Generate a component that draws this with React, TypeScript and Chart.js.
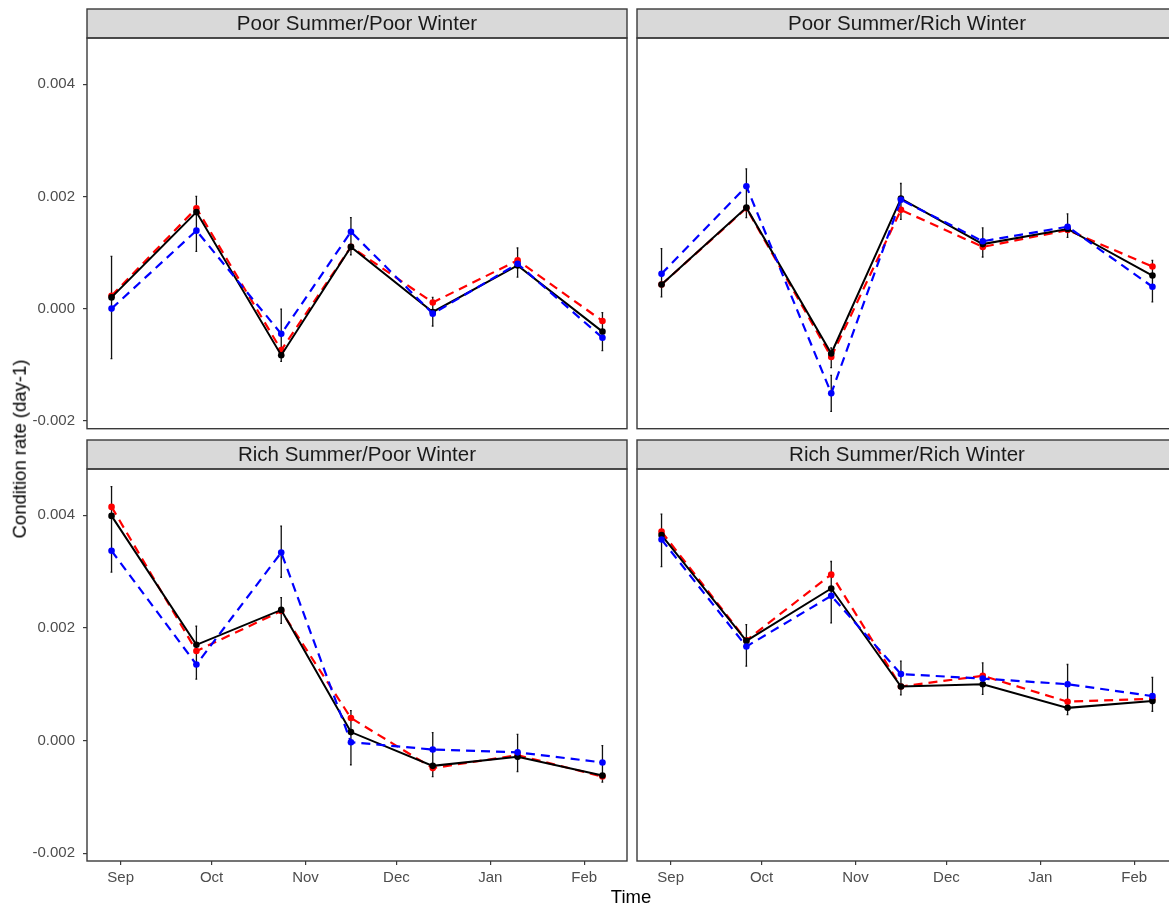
import React, { useEffect, useRef } from "react";
import { Chart, registerables } from "chart.js";

Chart.register(...registerables);

const FONT = '"Liberation Sans", Arial, Helvetica, sans-serif';

// ---------- data ----------
const panelTitles = [
  "Poor Summer/Poor Winter",
  "Poor Summer/Rich Winter",
  "Rich Summer/Poor Winter",
  "Rich Summer/Rich Winter",
];

// sampling dates, in days from 1 Sep
const sampleDays = [-3, 25, 53, 76, 103, 131, 159];
const monthTickDays = [0, 30, 61, 91, 122, 153];
const monthTickLabels = ["Sep", "Oct", "Nov", "Dec", "Jan", "Feb"];
const yTickValues = [-0.002, 0, 0.002, 0.004];
const yAxisTitle = "Condition rate (day-1)";
const xAxisTitle = "Time";

// Poor Summer / Poor Winter
const ppBlack = [0.0002, 0.00172, -0.00083, 0.0011, -0.00006, 0.00077, -0.00041];
const ppRed = [0.00023, 0.00179, -0.00074, 0.0011, 0.00011, 0.00086, -0.00022];
const ppBlue = [0.0, 0.00139, -0.00045, 0.00137, -0.00009, 0.0008, -0.00052];
const ppErrHi = [0.00093, 0.002, -0.00001, 0.00162, 0.0002, 0.00108, -0.00007];
const ppErrLo = [-0.00089, 0.00102, -0.00094, 0.00096, -0.00031, 0.00056, -0.00075];
const ppErr2Hi = [null, null, null, null, null, null, null];
const ppErr2Lo = [null, null, null, null, null, null, null];

// Poor Summer / Rich Winter
const prBlack = [0.00043, 0.0018, -0.0008, 0.00196, 0.00115, 0.00142, 0.00059];
const prRed = [0.00043, 0.00179, -0.00086, 0.00176, 0.0011, 0.0014, 0.00075];
const prBlue = [0.00062, 0.00218, -0.00151, 0.00194, 0.0012, 0.00146, 0.00039];
const prErrHi = [0.00107, 0.00249, -0.0007, 0.00223, 0.00144, 0.00169, 0.00086];
const prErrLo = [0.00021, 0.00162, -0.00105, 0.00159, 0.00092, 0.00127, 0.00012];
const prErr2Hi = [null, null, -0.00119, null, null, null, null];
const prErr2Lo = [null, null, -0.00183, null, null, null, null];

// Rich Summer / Poor Winter
const rpBlack = [0.00399, 0.0017, 0.00232, 0.00015, -0.00045, -0.00029, -0.00062];
const rpRed = [0.00415, 0.00159, 0.0023, 0.0004, -0.00049, -0.00026, -0.00064];
const rpBlue = [0.00337, 0.00135, 0.00334, -0.00003, -0.00016, -0.00021, -0.00039];
const rpErrHi = [0.00451, 0.00203, 0.00254, 0.00053, 0.00014, 0.00011, -0.00009];
const rpErrLo = [0.00299, 0.00109, 0.00208, -0.00043, -0.00064, -0.00055, -0.00074];
const rpErr2Hi = [null, null, 0.00381, null, null, null, null];
const rpErr2Lo = [null, null, 0.0029, null, null, null, null];

// Rich Summer / Rich Winter
const rrBlack = [0.00365, 0.00177, 0.0027, 0.00096, 0.001, 0.00058, 0.0007];
const rrRed = [0.00371, 0.00178, 0.00295, 0.00096, 0.00115, 0.00069, 0.00074];
const rrBlue = [0.00357, 0.00167, 0.00257, 0.00118, 0.0011, 0.001, 0.00079];
const rrErrHi = [0.00402, 0.00206, 0.00318, 0.00141, 0.00138, 0.00135, 0.00112];
const rrErrLo = [0.00309, 0.00132, 0.00209, 0.00081, 0.00082, 0.00046, 0.00052];
const rrErr2Hi = [null, null, null, null, null, null, null];
const rrErr2Lo = [null, null, null, null, null, null, null];

const panels = [
  { title: panelTitles[0], black: ppBlack, red: ppRed, blue: ppBlue, hi: ppErrHi, lo: ppErrLo, hi2: ppErr2Hi, lo2: ppErr2Lo, row: 0, col: 0 },
  { title: panelTitles[1], black: prBlack, red: prRed, blue: prBlue, hi: prErrHi, lo: prErrLo, hi2: prErr2Hi, lo2: prErr2Lo, row: 0, col: 1 },
  { title: panelTitles[2], black: rpBlack, red: rpRed, blue: rpBlue, hi: rpErrHi, lo: rpErrLo, hi2: rpErr2Hi, lo2: rpErr2Lo, row: 1, col: 0 },
  { title: panelTitles[3], black: rrBlack, red: rrRed, blue: rrBlue, hi: rrErrHi, lo: rrErrLo, hi2: rrErr2Hi, lo2: rrErr2Lo, row: 1, col: 1 },
];

// ---------- layout (positions only) ----------
const X_MIN = -11.1;
const X_MAX = 167.1;
const Y_MIN = -0.00214;
const Y_MAX = 0.004823;

const rowGeom = [
  { top: 0, height: 432, padTop: 9, padBottom: 2 },
  { top: 435, height: 455, padTop: 5, padBottom: 0 },
];
const colGeom = [
  { left: 0, width: 632, padLeft: 0, padRight: 5 },
  { left: 632, width: 550, padLeft: 5, padRight: 5 },
];

const frameColor = "#3a3a3a";

const panelPlugin = {
  id: "panelFrame",
  beforeDraw(chart: any) {
    const tb = chart.titleBlock;
    if (!tb) return;
    const ctx = chart.ctx;
    ctx.save();
    ctx.fillStyle = "#D9D9D9";
    ctx.fillRect(tb.left, tb.top, tb.width, tb.height);
    ctx.restore();
  },
  beforeDatasetsDraw(chart: any, _args: any, opts: any) {
    const p = opts.panel;
    if (!p) return;
    const ctx = chart.ctx;
    const xs = chart.scales.x;
    const ys = chart.scales.y;
    ctx.save();
    ctx.strokeStyle = "#111111";
    ctx.lineWidth = 1.3;
    const bar = (d: number, lo: number, hi: number) => {
      const x = xs.getPixelForValue(d);
      const y1 = ys.getPixelForValue(hi);
      const y2 = ys.getPixelForValue(lo);
      ctx.beginPath();
      ctx.moveTo(x, y1);
      ctx.lineTo(x, y2);
      ctx.moveTo(x - 1, y1);
      ctx.lineTo(x + 0.8, y1);
      ctx.moveTo(x - 1, y2);
      ctx.lineTo(x + 0.8, y2);
      ctx.stroke();
    };
    sampleDays.forEach((d, i) => {
      bar(d, p.lo[i], p.hi[i]);
      if (p.hi2[i] != null && p.lo2[i] != null) bar(d, p.lo2[i], p.hi2[i]);
    });
    ctx.restore();
  },
  afterDraw(chart: any) {
    const ctx = chart.ctx;
    const a = chart.chartArea;
    const tb = chart.titleBlock;
    ctx.save();
    ctx.strokeStyle = frameColor;
    ctx.lineWidth = 1.4;
    ctx.strokeRect(a.left, a.top, a.right - a.left, a.bottom - a.top);
    if (tb) ctx.strokeRect(tb.left, tb.top, tb.width, tb.height);
    ctx.restore();
  },
};

function makeSeries(values: number[]) {
  return sampleDays.map((d, i) => ({ x: d, y: values[i] }));
}

function Panel({ p }: { p: any }) {
  const ref = useRef<HTMLCanvasElement | null>(null);
  const rg = rowGeom[p.row];
  const cg = colGeom[p.col];
  const showX = p.row === 1;
  const showY = p.col === 0;

  useEffect(() => {
    if (!ref.current) return;
    const lineCommon = {
      pointRadius: 3.3,
      pointBorderWidth: 0,
      pointHoverRadius: 3.3,
      tension: 0,
      fill: false,
    };
    const chart = new Chart(ref.current, {
      type: "line",
      data: {
        datasets: [
          {
            label: "blue",
            data: makeSeries(p.blue),
            borderColor: "#0000FF",
            backgroundColor: "#0000FF",
            pointBackgroundColor: "#0000FF",
            borderWidth: 2.2,
            borderDash: [9, 6],
            order: 1,
            ...lineCommon,
          },
          {
            label: "black",
            data: makeSeries(p.black),
            borderColor: "#000000",
            backgroundColor: "#000000",
            pointBackgroundColor: "#000000",
            borderWidth: 2,
            order: 2,
            ...lineCommon,
          },
          {
            label: "red",
            data: makeSeries(p.red),
            borderColor: "#FF0000",
            backgroundColor: "#FF0000",
            pointBackgroundColor: "#FF0000",
            borderWidth: 2.2,
            borderDash: [9, 6],
            order: 3,
            ...lineCommon,
          },
        ],
      },
      options: {
        animation: false,
        responsive: false,
        maintainAspectRatio: false,
        events: [],
        layout: {
          padding: { left: cg.padLeft, right: cg.padRight, top: rg.padTop, bottom: rg.padBottom },
        },
        plugins: {
          legend: { display: false },
          tooltip: { enabled: false },
          title: {
            display: true,
            text: p.title,
            fullSize: false,
            color: "#1A1A1A",
            font: { family: FONT, size: 20.5, weight: "normal", lineHeight: 1 },
            padding: { top: 5.5, bottom: 3 },
          },
          panelFrame: { panel: p },
        } as any,
        scales: {
          x: {
            type: "linear",
            min: X_MIN,
            max: X_MAX,
            display: showX,
            afterBuildTicks: (s: any) => {
              s.ticks = monthTickDays.map((v) => ({ value: v }));
            },
            afterFit: (s: any) => {
              s.height = showX ? 29 : 0;
              s.paddingLeft = 0;
              s.paddingRight = 0;
            },
            ticks: {
              autoSkip: false,
              maxRotation: 0,
              padding: 4,
              color: "#4D4D4D",
              font: { family: FONT, size: 15 },
              callback: (v: any) => {
                const i = monthTickDays.indexOf(Number(v));
                return i >= 0 ? monthTickLabels[i] : "";
              },
            },
            grid: {
              display: true,
              drawOnChartArea: false,
              drawTicks: true,
              tickLength: 4,
              color: frameColor,
              lineWidth: 1.2,
            },
            border: { display: false },
          },
          y: {
            type: "linear",
            min: Y_MIN,
            max: Y_MAX,
            display: showY,
            afterBuildTicks: (s: any) => {
              s.ticks = yTickValues.map((v) => ({ value: v }));
            },
            afterFit: (s: any) => {
              s.width = showY ? 87 : 0;
              s.paddingTop = 0;
              s.paddingBottom = 0;
            },
            ticks: {
              padding: 8,
              color: "#4D4D4D",
              font: { family: FONT, size: 15 },
              callback: (v: any) => Number(v).toFixed(3),
            },
            grid: {
              display: true,
              drawOnChartArea: false,
              drawTicks: true,
              tickLength: 4,
              color: frameColor,
              lineWidth: 1.2,
            },
            border: { display: false },
          },
        },
      } as any,
      plugins: [panelPlugin as any],
    });
    return () => chart.destroy();
  }, []);

  return (
    <canvas
      ref={ref}
      width={cg.width}
      height={rg.height}
      style={{ position: "absolute", left: cg.left, top: rg.top, width: cg.width, height: rg.height }}
    />
  );
}

export default function App() {
  return (
    <div
      style={{
        position: "absolute",
        left: 0,
        top: 0,
        width: 1169,
        height: 909,
        overflow: "hidden",
        background: "#ffffff",
        fontFamily: FONT,
      }}
    >
      {panels.map((p, i) => (
        <Panel key={i} p={p} />
      ))}
      <div
        style={{
          position: "absolute",
          left: 20,
          top: 449,
          transform: "translate(-50%, -50%) rotate(-90deg)",
          whiteSpace: "nowrap",
          fontSize: 18.5,
          lineHeight: 1,
          color: "#000",
        }}
      >
        {yAxisTitle}
      </div>
      <div
        style={{
          position: "absolute",
          left: 631,
          top: 897,
          transform: "translate(-50%, -50%)",
          whiteSpace: "nowrap",
          fontSize: 18.5,
          lineHeight: 1,
          color: "#000",
        }}
      >
        {xAxisTitle}
      </div>
    </div>
  );
}
